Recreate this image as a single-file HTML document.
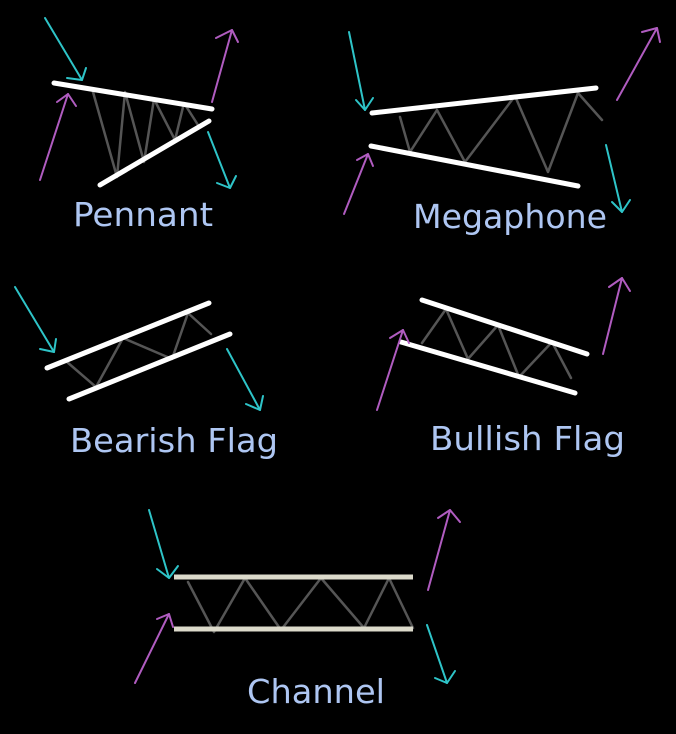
<!DOCTYPE html>
<html><head><meta charset="utf-8"><style>
html,body{margin:0;padding:0;background:#000;}
svg{display:block}
text{font-family:"DejaVu Sans","Liberation Sans",sans-serif;fill:#aec6f2;font-size:33px}
</style></head><body>
<svg width="676" height="734" viewBox="0 0 676 734" xmlns="http://www.w3.org/2000/svg">
<rect width="676" height="734" fill="#000"/>
<g fill="none" stroke-linecap="round" stroke-linejoin="round">
<!-- Pennant -->
<g stroke="#555" stroke-width="2.5"><polyline points="93,92 117,177 125,92 144,162 154,99 175,140 184,103 198,125"/></g>
<g stroke="#fff" stroke-width="5"><line x1="54" y1="83" x2="212" y2="109"/><line x1="100" y1="185" x2="209" y2="121"/></g>
<g stroke="#2ec4c8" stroke-width="2"><line x1="45" y1="18" x2="82" y2="80"/><polyline points="67,78 82,80 86,68"/><line x1="208" y1="132" x2="230" y2="188"/><polyline points="217,183 230,188 236,176"/></g>
<g stroke="#b05cc0" stroke-width="2"><line x1="40" y1="180" x2="68" y2="94"/><polyline points="57,102 68,94 76,106"/><line x1="212" y1="102" x2="232" y2="30"/><polyline points="216,38 232,30 238,42"/></g>
<!-- Megaphone -->
<g stroke="#555" stroke-width="2.5"><polyline points="400,117 410,152 437,110 465,162 515,96 548,172 578,93 602,120"/></g>
<g stroke="#fff" stroke-width="5"><line x1="372" y1="113" x2="596" y2="88"/><line x1="371" y1="146" x2="578" y2="186"/></g>
<g stroke="#2ec4c8" stroke-width="2"><line x1="349" y1="32" x2="365" y2="110"/><polyline points="356,100 365,110 373,98"/><line x1="606" y1="145" x2="622" y2="212"/><polyline points="612,202 622,212 630,200"/></g>
<g stroke="#b05cc0" stroke-width="2"><line x1="344" y1="214" x2="368" y2="154"/><polyline points="357,160 368,154 373,166"/><line x1="617" y1="100" x2="657" y2="28"/><polyline points="642,32 657,28 660,42"/></g>
<!-- Bearish flag -->
<g stroke="#555" stroke-width="2.5"><polyline points="67,362 96,387 123,338 172,359 188,313 211,334"/></g>
<g stroke="#fff" stroke-width="5"><line x1="47" y1="368" x2="209" y2="303"/><line x1="69" y1="399" x2="230" y2="334"/></g>
<g stroke="#2ec4c8" stroke-width="2"><line x1="15" y1="287" x2="54" y2="352"/><polyline points="40,349 54,352 56,339"/><line x1="227" y1="349" x2="260" y2="410"/><polyline points="246,404 260,410 263,396"/></g>
<!-- Bullish flag -->
<g stroke="#555" stroke-width="2.5"><polyline points="422,343 446,309 468,359 498,325 519,377 552,342 571,378"/></g>
<g stroke="#fff" stroke-width="5"><line x1="422" y1="300" x2="587" y2="354"/><line x1="401" y1="342" x2="575" y2="393"/></g>
<g stroke="#b05cc0" stroke-width="2"><line x1="377" y1="410" x2="403" y2="330"/><polyline points="390,338 403,330 409,343"/><line x1="603" y1="354" x2="622" y2="278"/><polyline points="609,287 622,278 630,291"/></g>
<!-- Channel -->
<g stroke="#555" stroke-width="2.5"><polyline points="188,582 214,632 245,578 281,630 321,578 364,628 389,578 413,628"/></g>
<g stroke="#dcdacb" stroke-width="5" stroke-linecap="butt"><line x1="174" y1="577" x2="413" y2="577"/><line x1="174" y1="629" x2="413" y2="629"/></g>
<g stroke="#2ec4c8" stroke-width="2"><line x1="149" y1="510" x2="169" y2="578"/><polyline points="157,569 169,578 178,566"/><line x1="427" y1="625" x2="447" y2="683"/><polyline points="435,678 447,683 455,671"/></g>
<g stroke="#b05cc0" stroke-width="2"><line x1="135" y1="683" x2="169" y2="614"/><polyline points="157,619 169,614 173,627"/><line x1="428" y1="590" x2="450" y2="510"/><polyline points="438,518 450,510 460,522"/></g>
</g>
<text x="73" y="226" textLength="140" lengthAdjust="spacingAndGlyphs">Pennant</text>
<text x="413" y="228" textLength="194" lengthAdjust="spacingAndGlyphs">Megaphone</text>
<text x="70" y="452" textLength="208" lengthAdjust="spacingAndGlyphs">Bearish Flag</text>
<text x="430" y="450" textLength="195" lengthAdjust="spacingAndGlyphs">Bullish Flag</text>
<text x="247" y="703" textLength="138" lengthAdjust="spacingAndGlyphs">Channel</text>
</svg>
</body></html>
